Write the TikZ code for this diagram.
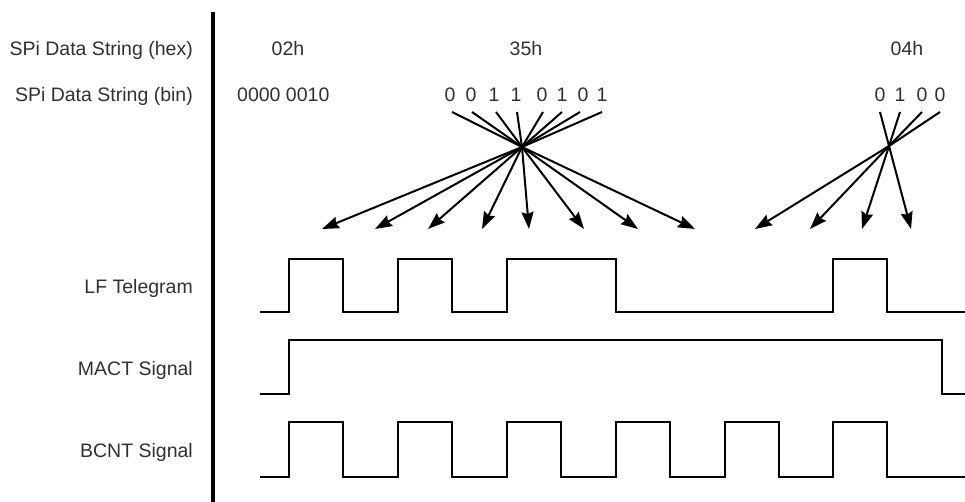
\documentclass[tikz,border=0pt]{standalone}
\usepackage{fontspec}
\setmainfont{Liberation Sans}
\usetikzlibrary{arrows.meta}
\definecolor{txt}{HTML}{303030}
\tikzset{
  lbl/.style={anchor=base east,inner sep=0pt,text=txt,font=\fontsize{19.5}{23}\selectfont},
  val/.style={anchor=base,inner sep=0pt,text=txt,font=\fontsize{19.5}{23}\selectfont},
  sig/.style={line width=2.2pt,line join=miter},
  fan/.style={line width=2pt},
  bitarrow/.style={line width=2pt,-{Stealth[length=17pt,width=12pt,inset=2pt]}},
  axis/.style={line width=4pt}
}
\begin{document}
\begin{tikzpicture}[x=1pt,y=-1pt]
\useasboundingbox (0,0) rectangle (965,502);
% axis bar
\coordinate (axtop) at (213,12);
\coordinate (axbot) at (213,502);
\draw[axis] (axtop) -- (axbot);
% row labels
\node[lbl] (lhex) at (193,56) {SPi Data String (hex)};
\node[lbl] (lbin) at (193,102) {SPi Data String (bin)};
\node[lbl] (llf) at (193,293) {LF Telegram};
\node[lbl] (lmact) at (193,375) {MACT Signal};
\node[lbl] (lbcnt) at (193,457) {BCNT Signal};
% hex values
\node[val] (h02) at (288,56) {02h};
\node[val] (h35) at (526,56) {35h};
\node[val] (h04) at (907,56) {04h};
% binary values
\node[val,anchor=base west] (b02) at (237,102) {0000 0010};
\foreach \i/\x/\d in {1/450/0,2/471/0,3/494/1,4/516/1,5/542/0,6/562/1,7/583/0,8/602/1}{
  \node[val] (a\i) at (\x,102) {\d};
}
\foreach \i/\x/\d in {1/880/0,2/900/1,3/922/0,4/940/0}{
  \node[val] (c\i) at (\x,102) {\d};
}
% fan-out convergence points
\coordinate (ca) at (522,147);
\coordinate (cc) at (889,146);
% tips 35h (LSB first)
\foreach \i/\x in {1/695,2/638,3/584,4/529,5/482,6/428,7/375,8/322}{
  \coordinate (ta\i) at (\x,229);
}
\foreach \i/\x in {1/911,2/862,3/810,4/755}{
  \coordinate (tc\i) at (\x,229);
}
\foreach \i/\dx in {1/2,2/1,3/2,4/1,5/1,6/0,7/-3,8/0}{
  \draw[fan] ([xshift=\dx pt,yshift=-10pt]a\i.base) -- (ca);
  \draw[bitarrow] (ca) -- (ta\i);
}
\foreach \i in {1,2,3,4}{
  \draw[fan] ([yshift=-10pt]c\i.base) -- (cc);
  \draw[bitarrow] (cc) -- (tc\i);
}
% LF Telegram
\coordinate (lfs) at (260,312);
\coordinate (lfe) at (965,312);
\draw[sig] (lfs) -- (289,312) -- (289,259) -- (343,259) -- (343,312) -- (398,312) -- (398,259) -- (452,259) -- (452,312) -- (507,312) -- (507,259) -- (616,259) -- (616,312) -- (833,312) -- (833,259) -- (887,259) -- (887,312) -- (lfe);
% MACT
\coordinate (mas) at (260,394);
\coordinate (mae) at (965,394);
\draw[sig] (mas) -- (289,394) -- (289,340) -- (942,340) -- (942,394) -- (mae);
% BCNT
\coordinate (bcs) at (260,477);
\coordinate (bce) at (965,477);
\draw[sig] (bcs) -- (289,477)
  \foreach \r/\f in {289/343,398/452,507/561,616/670,725/779,833/887}{
    -- (\r,477) -- (\r,422) -- (\f,422) -- (\f,477)
  } -- (bce);
\end{tikzpicture}
\end{document}
